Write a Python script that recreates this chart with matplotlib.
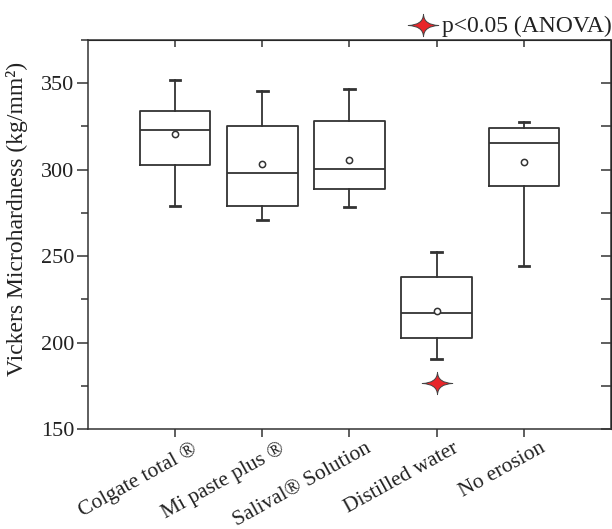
import numpy as np
import matplotlib
matplotlib.use("Agg")
import matplotlib.pyplot as plt
from matplotlib.path import Path
from matplotlib.markers import MarkerStyle
from matplotlib.ticker import MultipleLocator
import matplotlib.transforms as mtransforms

plt.rcParams['font.family'] = ['Liberation Serif', 'DejaVu Serif']

# Box statistics
groups = ['Colgate total ®', 'Mi paste plus ®', 'Salival® Solution', 'Distilled water', 'No erosion']
whislo = [278.9, 270.8, 278.3, 190.5, 244.4]
q1 = [302.6, 278.9, 288.7, 202.4, 290.5]
med = [322.8, 298.0, 300.3, 216.9, 315.3]
q3 = [333.8, 325.1, 328.0, 238.0, 324.2]
whishi = [351.7, 345.4, 346.5, 252.3, 327.5]
means = [320.5, 303.2, 305.5, 218.2, 304.3]
sig_group = 4       # Distilled water
sig_value = 176.8

ink = '#333333'
txt = '#222222'

# four-point star with concave sides, wider than tall
c = 0.03
star_path = Path([(1, 0), (c, c), (0, 0.73), (-c, c), (-1, 0),
                  (-c, -c), (0, -0.73), (c, -c), (1, 0), (1, 0)],
                 [Path.MOVETO] + [Path.CURVE3] * 8 + [Path.CLOSEPOLY])
star = MarkerStyle(star_path, joinstyle='round')
star_size = 22

fig = plt.figure(figsize=(6.12, 5.29), dpi=100)
ax = fig.add_axes([0.1438, 0.189, 0.8545, 0.7354])

stats = []
for i in range(len(groups)):
    stats.append({'whislo': whislo[i], 'q1': q1[i], 'med': med[i], 'q3': q3[i],
                  'whishi': whishi[i], 'mean': means[i], 'fliers': []})

pos = np.arange(1, len(groups) + 1)
ax.bxp(stats, positions=pos, widths=0.81, showmeans=True, showfliers=False,
       boxprops=dict(color=ink, lw=1.3),
       medianprops=dict(color=ink, lw=1.3),
       whiskerprops=dict(color=ink, lw=1.3),
       capprops=dict(color=ink, lw=2.0),
       capwidths=0.12,
       meanprops=dict(marker='o', markersize=4.5, markerfacecolor='white',
                      markeredgecolor=ink, markeredgewidth=1.1))

ax.plot(sig_group, sig_value, marker=star, markersize=star_size, color='#e8262a',
        markeredgecolor='#444444', markeredgewidth=0.7, ls='none')

ax.set_xlim(0, 6)
ax.set_ylim(150, 375)
ax.yaxis.set_major_locator(MultipleLocator(50))
ax.yaxis.set_minor_locator(MultipleLocator(25))
ax.set_xticks(pos)
ax.set_xticklabels([])

for s in ax.spines.values():
    s.set_color(ink)
    s.set_linewidth(1.1)

ax.tick_params(axis='y', which='major', direction='out', length=8, width=1.1, color=ink,
               labelsize=16, labelcolor=txt, pad=2)
ax.tick_params(axis='y', which='minor', direction='out', length=5, width=1.1, color=ink)
ax.tick_params(axis='x', direction='out', length=6, width=1.1, color=ink)

# inward ticks on top and right
top = ax.secondary_xaxis('top')
top.set_xticks(pos)
top.set_xticklabels([])
top.tick_params(direction='in', length=5, width=1.1, color=ink)
right = ax.secondary_yaxis('right')
right.yaxis.set_major_locator(MultipleLocator(50))
right.yaxis.set_minor_locator(MultipleLocator(25))
right.set_yticklabels([])
right.tick_params(which='both', direction='in', length=7, width=1.1, color=ink)

# rotated category labels
off = mtransforms.ScaledTranslation(16 / 100, -10 / 100, fig.dpi_scale_trans)
for x, name in zip(pos, groups):
    ax.text(x, 150, name, transform=ax.transData + off,
            rotation=29, rotation_mode='anchor', ha='right', va='top',
            fontsize=15.5, color=txt)

ax.set_ylabel('Vickers Microhardness (kg/mm²)', fontsize=17, color=txt)
ax.yaxis.set_label_coords(-0.115, 0.54)

# significance key above the plot
fig.lines.append(plt.Line2D([423 / 612], [1 - 25 / 529], transform=fig.transFigure,
                            marker=star, markersize=star_size, color='#e8262a',
                            markeredgecolor='#444444', markeredgewidth=0.7, ls='none'))
fig.text(442 / 612, 1 - 26 / 529, 'p<0.05 (ANOVA)', fontsize=17, color=txt,
         ha='left', va='center')

fig.savefig('out.png', dpi=100)
